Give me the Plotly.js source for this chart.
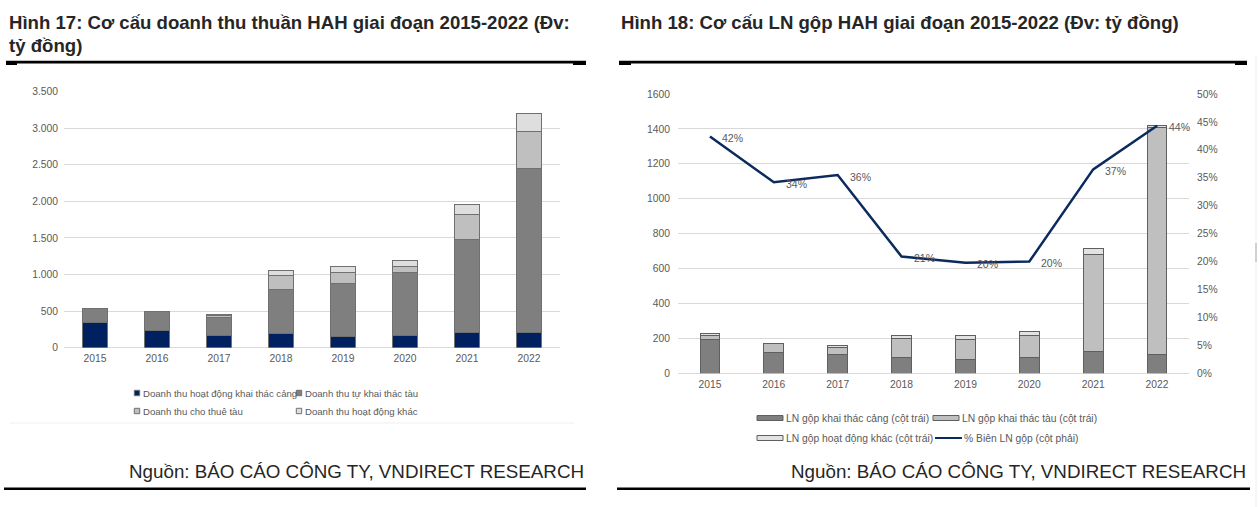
<!DOCTYPE html>
<html>
<head>
<meta charset="utf-8">
<script src="https://cdn.plot.ly/plotly-3.0.1.min.js"></script>
<style>
  html, body { margin: 0; padding: 0; background: #ffffff; }
  #chart { width: 1259px; height: 507px; }
</style>
</head>
<body>
<div id="chart"></div>
<script>
// ---------- data ----------
const years = ['2015', '2016', '2017', '2018', '2019', '2020', '2021', '2022'];

// Figure 17 – revenue structure (bn VND)
const revNames = ['Doanh thu hoạt động khai thác cảng', 'Doanh thu tự khai thác tàu',
                  'Doanh thu cho thuê tàu', 'Doanh thu hoạt động khác'];
const revPort    = [347, 242, 169, 197, 160, 169, 205, 205];
const revOwnShip = [183, 251, 241, 592, 720, 862, 1268, 2239];
const revCharter = [0, 0, 25, 205, 155, 77, 342, 511];
const revOther   = [0, 0, 22, 59, 73, 82, 141, 252];

// Figure 18 – gross profit structure (bn VND) and gross margin (%)
const gpNames = ['LN gộp khai thác cảng (cột trái)', 'LN gộp khai thác tàu (cột trái)',
                 'LN gộp hoạt động khác (cột trái)', '% Biên LN gộp (cột phải)'];
const gpPort   = [191, 118, 110, 92, 80, 89, 124, 105];
const gpShip   = [28, 50, 37, 108, 111, 125, 559, 1302];
const gpOther  = [10, 4, 15, 19, 28, 24, 31, 13];
const gpMargin = [42.4, 34.2, 35.5, 20.9, 19.8, 20.0, 36.5, 44.3];

const title17 = ['Hình 17: Cơ cấu doanh thu thuần HAH giai đoạn 2015-2022 (Đv:', 'tỷ đồng)'];
const title18 = 'Hình 18: Cơ cấu LN gộp HAH giai đoạn 2015-2022 (Đv: tỷ đồng)';
const source  = 'Nguồn: BÁO CÁO CÔNG TY, VNDIRECT RESEARCH';

// ---------- styling ----------
const W = 1259, H = 507;
const px = x => x / W;
const py = y => 1 - y / H;
const FONT = 'Liberation Sans, Arial, sans-serif';
const TXT = '#595959';

const revColors = ['#002060', '#7f7f80', '#bfbfbf', '#dedede'];
const gpColors  = ['#7f7f80', '#bfbfbf', '#e2e2e2'];
const navyLine  = '#0b2a5e';

const traces = [];
[revPort, revOwnShip, revCharter, revOther].forEach((vals, i) => {
  traces.push({
    type: 'bar', x: years, y: vals, name: revNames[i],
    xaxis: 'x', yaxis: 'y', width: 0.4,
    marker: { color: revColors[i], line: { color: '#707070', width: 1 } },
    showlegend: false, hoverinfo: 'skip'
  });
});
[gpPort, gpShip, gpOther].forEach((vals, i) => {
  traces.push({
    type: 'bar', x: years, y: vals, name: gpNames[i],
    xaxis: 'x2', yaxis: 'y2', width: 0.31,
    marker: { color: gpColors[i], line: { color: '#5f5f5f', width: 1 } },
    showlegend: false, hoverinfo: 'skip'
  });
});
traces.push({
  type: 'scatter', mode: 'lines', x: years, y: gpMargin, name: gpNames[3],
  xaxis: 'x2', yaxis: 'y3',
  line: { color: navyLine, width: 2.5 },
  showlegend: false, hoverinfo: 'skip'
});

const annotations = [];
const shapes = [];

// titles
const titleFont = { family: FONT, size: 18.6, color: '#262626' };
annotations.push({ xref: 'paper', yref: 'paper', x: px(7), y: py(22), xanchor: 'left', yanchor: 'middle',
  text: '<b>' + title17[0] + '</b>', showarrow: false, font: titleFont });
annotations.push({ xref: 'paper', yref: 'paper', x: px(7), y: py(45), xanchor: 'left', yanchor: 'middle',
  text: '<b>' + title17[1] + '</b>', showarrow: false, font: titleFont });
annotations.push({ xref: 'paper', yref: 'paper', x: px(619), y: py(22), xanchor: 'left', yanchor: 'middle',
  text: '<b>' + title18 + '</b>', showarrow: false, font: titleFont });

// sources
const srcFont = { family: FONT, size: 18.8, color: '#262626' };
annotations.push({ xref: 'paper', yref: 'paper', x: px(586), y: py(471), xanchor: 'right', yanchor: 'middle',
  text: source, showarrow: false, font: srcFont });
annotations.push({ xref: 'paper', yref: 'paper', x: px(1248), y: py(471), xanchor: 'right', yanchor: 'middle',
  text: source, showarrow: false, font: srcFont });

// margin labels (x given as category index)
gpMargin.forEach((v, i) => {
  annotations.push({ xref: 'x2', yref: 'y3', x: i, y: v, xanchor: 'left', yanchor: 'middle',
    xshift: 10, yshift: -1.5, text: Math.round(v) + '%', showarrow: false,
    font: { family: FONT, size: 10.5, color: TXT } });
});

// rules
function rect(x0, y0, x1, y1, color) {
  shapes.push({ type: 'rect', xref: 'paper', yref: 'paper', x0: px(x0), x1: px(x1), y0: py(y1), y1: py(y0),
    fillcolor: color, line: { width: 0 }, layer: 'above' });
}
// top rules
rect(6, 60.8, 586, 63.5, '#000');
rect(6, 61, 17, 65, '#000');
rect(573, 61, 586, 65, '#000');
rect(619, 60.8, 1247, 63.5, '#000');
rect(619, 61, 631, 65, '#000');
rect(1235, 61, 1247, 65, '#000');
// bottom rules
rect(4, 487.5, 586, 490, '#000');
rect(617, 487.5, 1250, 490, '#000');
// faint chart-frame lines
rect(10, 422.5, 574, 423.5, '#f0f0f0');
rect(1255.5, 55, 1256.5, 507, '#f0f0f0');
rect(1255, 243, 1257, 262, '#d0d0d0');

// manual legends – figure 17
const legRev = [[137, 393], [299, 393], [137, 411], [299, 411]];
revNames.forEach((n, i) => {
  const [cx, cy] = legRev[i];
  shapes.push({ type: 'rect', xref: 'paper', yref: 'paper', x0: px(cx - 2.7), x1: px(cx + 2.7),
    y0: py(cy + 2.7), y1: py(cy - 2.7), fillcolor: revColors[i], line: { color: '#707070', width: 1 } });
  annotations.push({ xref: 'paper', yref: 'paper', x: px(cx + 3.5), y: py(cy), xanchor: 'left', yanchor: 'middle',
    text: n, showarrow: false, font: { family: FONT, size: 9.6, color: TXT } });
});

// manual legends – figure 18
const legGp = [[757, 418], [933, 418], [757, 438], [935, 438]];
gpNames.forEach((n, i) => {
  const [lx, ly] = legGp[i];
  if (i < 3) {
    shapes.push({ type: 'rect', xref: 'paper', yref: 'paper', x0: px(lx), x1: px(lx + 26),
      y0: py(ly + 2.5), y1: py(ly - 2.5), fillcolor: gpColors[i], line: { color: '#5f5f5f', width: 1 } });
  } else {
    shapes.push({ type: 'line', xref: 'paper', yref: 'paper', x0: px(lx), x1: px(lx + 27),
      y0: py(ly), y1: py(ly), line: { color: navyLine, width: 2 } });
  }
  annotations.push({ xref: 'paper', yref: 'paper', x: px(lx + 27), y: py(ly), xanchor: 'left', yanchor: 'middle',
    text: n, showarrow: false, font: { family: FONT, size: 10.3, color: TXT } });
});

const tickFont = { family: FONT, size: 10.3, color: TXT };

const layout = {
  width: W, height: H,
  margin: { l: 0, r: 0, t: 0, b: 0, pad: 0 },
  paper_bgcolor: '#ffffff', plot_bgcolor: 'rgba(0,0,0,0)',
  separators: ',.',
  barmode: 'stack',
  showlegend: false,
  font: { family: FONT, size: 10, color: TXT },
  xaxis: { domain: [px(64), px(560)], anchor: 'y', type: 'category', range: [-0.5, 7.5], showgrid: false,
    zeroline: false, showline: false, ticks: '', tickfont: tickFont, ticklabelstandoff: 3, fixedrange: true },
  yaxis: { domain: [py(347.7), py(91.7)], anchor: 'x', range: [0, 3500], dtick: 500, tick0: 0,
    tickformat: ',d', gridcolor: '#d9d9d9', gridwidth: 1, zeroline: true, zerolinecolor: '#d9d9d9',
    zerolinewidth: 1, showline: false, ticks: '', tickfont: tickFont, ticklabelstandoff: 5, fixedrange: true },
  xaxis2: { domain: [px(678), px(1189)], anchor: 'y2', type: 'category', range: [-0.5, 7.5], showgrid: false,
    zeroline: false, showline: false, ticks: '', tickfont: tickFont, ticklabelstandoff: 3, fixedrange: true },
  yaxis2: { domain: [py(373.3), py(94)], anchor: 'x2', range: [0, 1600], dtick: 200, tick0: 0,
    tickformat: 'd', gridcolor: '#d9d9d9', gridwidth: 1, zeroline: true, zerolinecolor: '#d9d9d9',
    zerolinewidth: 1, showline: false, ticks: '', tickfont: tickFont, ticklabelstandoff: 7, fixedrange: true },
  yaxis3: { domain: [py(373.3), py(94)], anchor: 'x2', overlaying: 'y2', side: 'right', range: [0, 50],
    dtick: 5, tick0: 0, ticksuffix: '%', showgrid: false, zeroline: false, showline: false, ticks: '',
    tickfont: tickFont, ticklabelstandoff: 7, fixedrange: true },
  annotations: annotations,
  shapes: shapes
};

Plotly.newPlot('chart', traces, layout, { staticPlot: true, displayModeBar: false });
</script>
</body>
</html>
